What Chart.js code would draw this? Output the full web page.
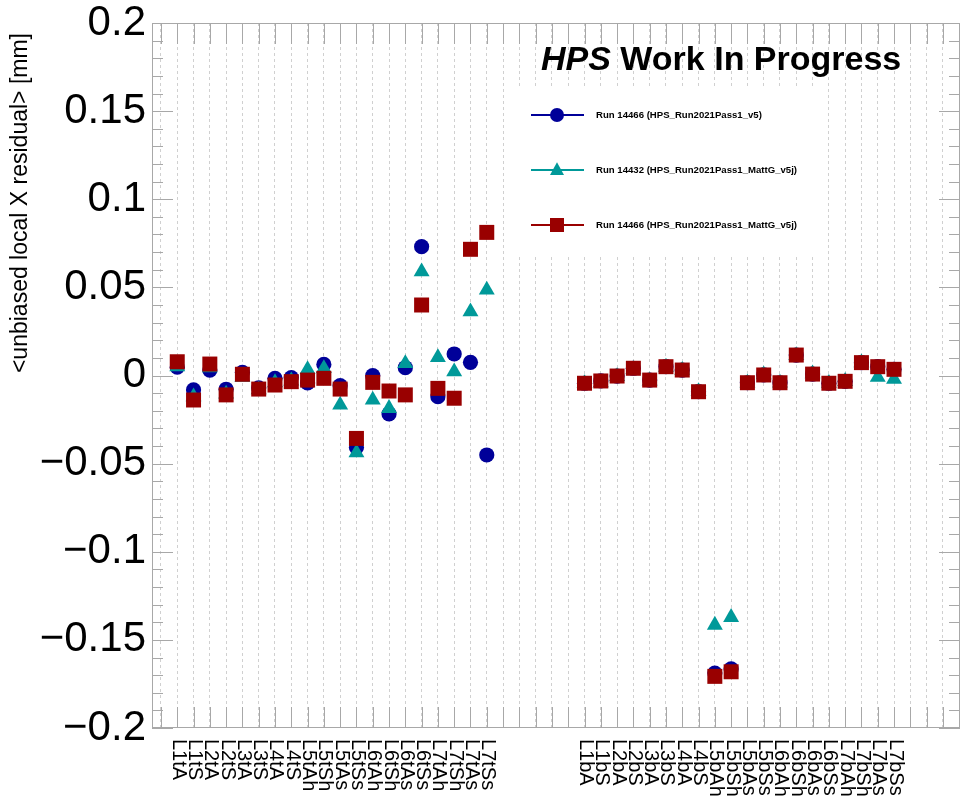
<!DOCTYPE html>
<html>
<head>
<meta charset="utf-8">
<script src="https://cdn.jsdelivr.net/npm/chart.js@4.4.1/dist/chart.umd.min.js"></script>
<style>
  html, body { margin: 0; padding: 0; background: #fff; }
  #wrap { width: 961px; height: 799px; }
</style>
</head>
<body>
<div id="wrap"><canvas id="residualChart" width="961" height="799"></canvas></div>
<script>
// Sensor names: top half, empty gap, bottom half
const sensorLabels = [
  'L1tA', 'L1tS', 'L2tA', 'L2tS', 'L3tA', 'L3tS', 'L4tA', 'L4tS',
  'L5tAh', 'L5tSh', 'L5tAs', 'L5tSs', 'L6tAh', 'L6tSh', 'L6tAs', 'L6tSs',
  'L7tAh', 'L7tSh', 'L7tAs', 'L7tSs',
  '', '', '', '', '',
  'L1bA', 'L1bS', 'L2bA', 'L2bS', 'L3bA', 'L3bS', 'L4bA', 'L4bS',
  'L5bAh', 'L5bSh', 'L5bAs', 'L5bSs', 'L6bAh', 'L6bSh', 'L6bAs', 'L6bSs',
  'L7bAh', 'L7bSh', 'L7bAs', 'L7bSs'
];

const yTickValues = [-0.2, -0.15, -0.1, -0.05, 0, 0.05, 0.1, 0.15, 0.2];
const yTickLabels = ['\u22120.2', '\u22120.15', '\u22120.1', '\u22120.05', '0', '0.05', '0.1', '0.15', '0.2'];

// Run 14466 (HPS_Run2021Pass1_v5)
const run14466v5 = [
  0.0047, -0.0082, 0.0031, -0.0078, 0.0018, -0.007, -0.0016, -0.0012,
  -0.0042, 0.0063, -0.0058, -0.0408, -0.0001, -0.0218, 0.0044, 0.0731,
  -0.012, 0.0122, 0.0075, -0.0451,
  null, null, null, null, null,
  -0.0044, -0.0031, -0.0003, 0.0041, -0.0026, 0.005, 0.0031, -0.0092,
  -0.1688, -0.1665, -0.0041, 0.0003, -0.0041, 0.0116, 0.0008, -0.0044,
  -0.0033, 0.0073, 0.005, 0.0035
];

// Run 14432 (HPS_Run2021Pass1_MattG_v5j)
const run14432mattG = [
  0.005, -0.012, 0.0045, -0.0105, -0.001, -0.008, -0.004, -0.003,
  0.0035, 0.004, -0.0167, -0.0438, -0.0139, -0.0186, 0.0069, 0.0589,
  0.0103, 0.0022, 0.0362, 0.0485,
  null, null, null, null, null,
  -0.0045, -0.004, -0.0005, 0.0035, -0.003, 0.0048, 0.003, -0.009,
  -0.1416, -0.1372, -0.0042, 0.0005, -0.0042, 0.0114, 0.001, -0.0044,
  -0.0033, 0.0073, -0.001, -0.002
];

// Run 14466 (HPS_Run2021Pass1_MattG_v5j)
const run14466mattG = [
  0.0078, -0.0139, 0.0065, -0.011, 0.0007, -0.0077, -0.0054, -0.0035,
  -0.0026, -0.0016, -0.0077, -0.0357, -0.0039, -0.0088, -0.011, 0.040,
  -0.0073, -0.0129, 0.0716, 0.0812,
  null, null, null, null, null,
  -0.0044, -0.0031, -0.0003, 0.0041, -0.0026, 0.005, 0.0031, -0.0092,
  -0.1707, -0.1681, -0.0041, 0.0003, -0.0041, 0.0116, 0.0008, -0.0044,
  -0.0033, 0.0073, 0.005, 0.0035
];

const legendItems = [
  { text: 'Run 14466 (HPS_Run2021Pass1_v5)', color: '#000099', shape: 'circle' },
  { text: 'Run 14432 (HPS_Run2021Pass1_MattG_v5j)', color: '#009999', shape: 'triangle' },
  { text: 'Run 14466 (HPS_Run2021Pass1_MattG_v5j)', color: '#990000', shape: 'rect' }
];

// bin positions for the grid (one extra on the left, three on the right)
const xGridIdx = [];
for (let i = -1; i <= 47; i++) xGridIdx.push(i);

const toPoints = arr => arr.map((v, i) => ({ x: i, y: v }));

function drawMarker(ctx, shape, cx, cy, r) {
  ctx.beginPath();
  if (shape === 'circle') {
    ctx.arc(cx, cy, r, 0, Math.PI * 2);
  } else if (shape === 'rect') {
    ctx.rect(cx - r, cy - r, 2 * r, 2 * r);
  } else {
    ctx.moveTo(cx, cy - r * 1.1);
    ctx.lineTo(cx + r, cy + r * 0.7);
    ctx.lineTo(cx - r, cy + r * 0.7);
    ctx.closePath();
  }
  ctx.fill();
}

// ROOT style frame, inner ticks, labels, legend and header
const rootDecor = {
  id: 'rootDecor',
  beforeDatasetsDraw(chart) {
    const { ctx, chartArea: a, scales: { x, y } } = chart;
    ctx.save();

    // legend box hides the grid
    ctx.fillStyle = '#fff';
    ctx.fillRect(512, 86, 311, 170);

    // tick marks inside the frame
    ctx.strokeStyle = '#a8a8a8';
    ctx.lineWidth = 1;
    ctx.setLineDash([]);
    ctx.beginPath();
    x.ticks.forEach(t => {
      const px = Math.round(x.getPixelForValue(t.value)) + 0.5;
      ctx.moveTo(px, a.top); ctx.lineTo(px, a.top + 21);
      ctx.moveTo(px, a.bottom); ctx.lineTo(px, a.bottom - 21);
    });
    for (let k = -20; k <= 20; k++) {
      const py = Math.round(y.getPixelForValue(k / 100)) + 0.5;
      const len = k % 5 === 0 ? 21 : 11;
      ctx.moveTo(a.left, py); ctx.lineTo(a.left + len, py);
      ctx.moveTo(a.right, py); ctx.lineTo(a.right - len, py);
    }
    ctx.stroke();
    ctx.strokeRect(a.left + 0.5, a.top + 0.5, a.width - 1, a.height - 1);

    // category labels, rotated to read downwards
    ctx.fillStyle = '#000';
    ctx.font = '20px "Liberation Sans"';
    ctx.textAlign = 'left';
    ctx.textBaseline = 'middle';
    sensorLabels.forEach((lab, i) => {
      if (!lab) return;
      ctx.save();
      ctx.translate(x.getPixelForValue(i) + 1, a.bottom + 11);
      ctx.rotate(Math.PI / 2);
      ctx.fillText(lab, 0, 0);
      ctx.restore();
    });

    // y axis title
    ctx.save();
    ctx.translate(21, 33);
    ctx.rotate(-Math.PI / 2);
    ctx.font = '23px "Liberation Sans"';
    ctx.textAlign = 'right';
    ctx.fillText('<unbiased local X residual> [mm]', 0, 0);
    ctx.restore();

    // header
    ctx.textBaseline = 'alphabetic';
    ctx.font = 'italic bold 34px "Liberation Sans"';
    ctx.fillText('HPS', 541, 70);
    const w = ctx.measureText('HPS').width;
    ctx.font = 'bold 34px "Liberation Sans"';
    ctx.fillText(' Work In Progress', 541 + w, 70);

    // legend entries
    ctx.textBaseline = 'middle';
    ctx.font = 'bold 9.6px "Liberation Sans"';
    legendItems.forEach((it, i) => {
      const cy = 115 + i * 55;
      ctx.strokeStyle = it.color;
      ctx.lineWidth = 2;
      ctx.beginPath();
      ctx.moveTo(531, cy); ctx.lineTo(584, cy);
      ctx.stroke();
      ctx.fillStyle = it.color;
      drawMarker(ctx, it.shape, 557, cy, 7);
      ctx.fillStyle = '#000';
      ctx.fillText(it.text, 596, cy);
    });

    ctx.restore();
  }
};

new Chart(document.getElementById('residualChart'), {
  type: 'scatter',
  data: {
    datasets: [
      {
        label: legendItems[2].text,
        data: toPoints(run14466mattG),
        pointStyle: 'rect',
        pointRadius: 10.6,
        backgroundColor: '#990000',
        borderWidth: 0,
        order: 0
      },
      {
        label: legendItems[1].text,
        data: toPoints(run14432mattG),
        pointStyle: 'triangle',
        pointRadius: 9.2,
        backgroundColor: '#009999',
        borderWidth: 0,
        order: 1
      },
      {
        label: legendItems[0].text,
        data: toPoints(run14466v5),
        pointStyle: 'circle',
        pointRadius: 7.6,
        backgroundColor: '#000099',
        borderWidth: 0,
        order: 2
      }
    ]
  },
  options: {
    responsive: false,
    animation: false,
    layout: { autoPadding: false, padding: { top: 23, right: 1, left: 0, bottom: 0 } },
    plugins: {
      legend: { display: false },
      tooltip: { enabled: false }
    },
    scales: {
      x: {
        type: 'linear',
        min: -1.55,
        max: 48.05,
        afterBuildTicks: s => { s.ticks = xGridIdx.map(v => ({ value: v })); },
        afterFit: s => { s.height = 71; s.paddingLeft = 0; s.paddingRight = 0; },
        ticks: { display: false },
        grid: { color: '#d0d0d0', drawTicks: false },
        border: { display: false, dash: [3, 3] }
      },
      y: {
        min: -0.2,
        max: 0.2,
        afterBuildTicks: s => { s.ticks = yTickValues.map(v => ({ value: v })); },
        afterFit: s => { s.width = 152; s.paddingTop = 0; s.paddingBottom = 0; },
        ticks: {
          autoSkip: false,
          padding: 6,
          color: '#000',
          font: { family: 'Liberation Sans', size: 42 },
          callback: (v, i) => yTickLabels[i]
        },
        grid: { display: false, drawTicks: false },
        border: { display: false }
      }
    }
  },
  plugins: [rootDecor]
});
</script>
</body>
</html>
